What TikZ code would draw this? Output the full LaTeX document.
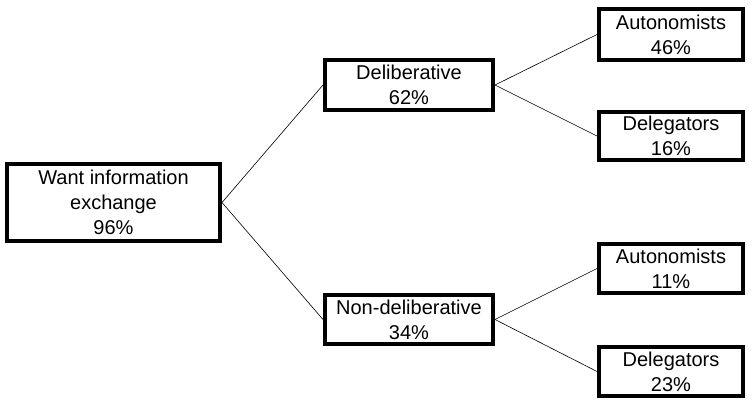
\documentclass[tikz,border=0pt]{standalone}
\usepackage{fontspec}
\setmainfont{Liberation Sans}
\begin{document}
\begin{tikzpicture}[x=1pt,y=1pt,
  box/.style={draw=black,line width=4pt,fill=white,align=center,inner sep=0pt,
    font=\fontsize{20}{25}\selectfont},
  link/.style={draw=black,line width=0.6pt}]
\useasboundingbox (0,0) rectangle (753,410);
\node[box,minimum width=213pt,minimum height=77pt] (root) at (113.5,207.5) {Want information\\exchange\\96\%};
\node[box,minimum width=168pt,minimum height=50pt] (del) at (409,325) {Deliberative\\62\%};
\node[box,minimum width=168pt,minimum height=49pt] (non) at (409,90.5) {Non-deliberative\\34\%};
\node[box,minimum width=144pt,minimum height=51pt] (a1) at (671,375.5) {Autonomists\\46\%};
\node[box,minimum width=144pt,minimum height=48pt] (d1) at (671,274) {Delegators\\16\%};
\node[box,minimum width=144pt,minimum height=49pt] (a2) at (671,141.5) {Autonomists\\11\%};
\node[box,minimum width=144pt,minimum height=49pt] (d2) at (671,38.5) {Delegators\\23\%};
\draw[link] (root.east) -- (del.west);
\draw[link] (root.east) -- (non.west);
\draw[link] (del.east) -- (a1.west);
\draw[link] (del.east) -- (d1.west);
\draw[link] (non.east) -- (a2.west);
\draw[link] (non.east) -- (d2.west);
\end{tikzpicture}
\end{document}
